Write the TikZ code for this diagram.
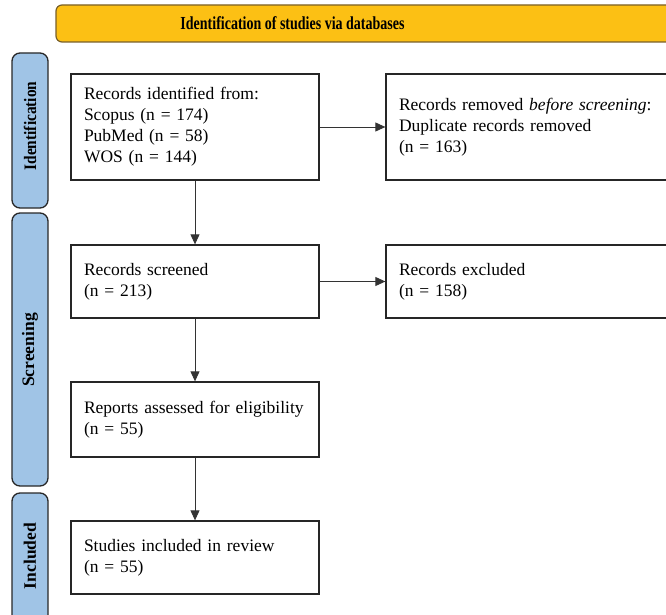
\documentclass[tikz,border=0pt]{standalone}
\usepackage{fontspec}
\setmainfont{Liberation Serif}
\usetikzlibrary{arrows.meta}
\definecolor{bannerfill}{RGB}{252,192,20}
\definecolor{bannerline}{RGB}{120,95,40}
\definecolor{sidefill}{RGB}{160,196,230}
\definecolor{sideline}{RGB}{40,40,40}
\tikzset{
  flowbox/.style={draw=black!85, line width=1.3pt, fill=white, inner xsep=13pt, inner ysep=0pt, align=left, font=\fontsize{17.5}{21}\selectfont},
  sidebar/.style={draw=sideline, line width=1.3pt, fill=sidefill, rounded corners=8pt},
  sidelabel/.style={rotate=90, font=\bfseries\fontsize{17.5}{21}\selectfont},
  flowarrow/.style={draw=black!80, line width=0.9pt, -{Triangle[length=10pt,width=9pt]}}
}
\begin{document}
\begin{tikzpicture}[x=1pt,y=-1pt]
\useasboundingbox (0,0) rectangle (666,615);
% banner
\draw[draw=bannerline, line width=1.2pt, fill=bannerfill, rounded corners=6pt] (56,5) rectangle (700,42);
\node (banner) at (292.5,23.5) {\scalebox{0.8}[1.05]{\bfseries\fontsize{17.5}{21}\selectfont Identification of studies via databases}};
% side bars
\draw[sidebar] (12,53) rectangle (48,208);
\node[sidelabel] (lid) at (30,126) {\scalebox{0.88}[1]{Identification}};
\draw[sidebar] (12,213) rectangle (48,486);
\node[sidelabel] (lsc) at (30,350) {Screening};
\draw[sidebar] (12,493) rectangle (48,640);
\node[sidelabel] (lin) at (30,556) {Included};
% boxes
\node[flowbox, minimum width=248pt, minimum height=106pt, text width=222pt] (ident) at (195,127) {Records identified from:\\Scopus (n = 174)\\PubMed (n = 58)\\WOS (n = 144)};
\node[flowbox, minimum width=300pt, minimum height=106pt, text width=274pt] (removed) at (536,127) {Records removed \textit{before screening}:\\Duplicate records removed\\(n = 163)};
\node[flowbox, minimum width=248pt, minimum height=73pt, text width=222pt] (screened) at (195,281.5) {Records screened\\(n = 213)};
\node[flowbox, minimum width=300pt, minimum height=73pt, text width=274pt] (excluded) at (536,281.5) {Records excluded\\(n = 158)};
\node[flowbox, minimum width=248pt, minimum height=75pt, text width=222pt] (reports) at (195,419.5) {Reports assessed for eligibility\\(n = 55)};
\node[flowbox, minimum width=248pt, minimum height=73pt, text width=222pt] (included) at (195,557.5) {Studies included in review\\(n = 55)};
% arrows
\draw[flowarrow] (ident.east) -- (removed.west);
\draw[flowarrow] (screened.east) -- (excluded.west);
\draw[flowarrow] (ident.south) -- (screened.north);
\draw[flowarrow] (screened.south) -- (reports.north);
\draw[flowarrow] (reports.south) -- (included.north);
\end{tikzpicture}
\end{document}
